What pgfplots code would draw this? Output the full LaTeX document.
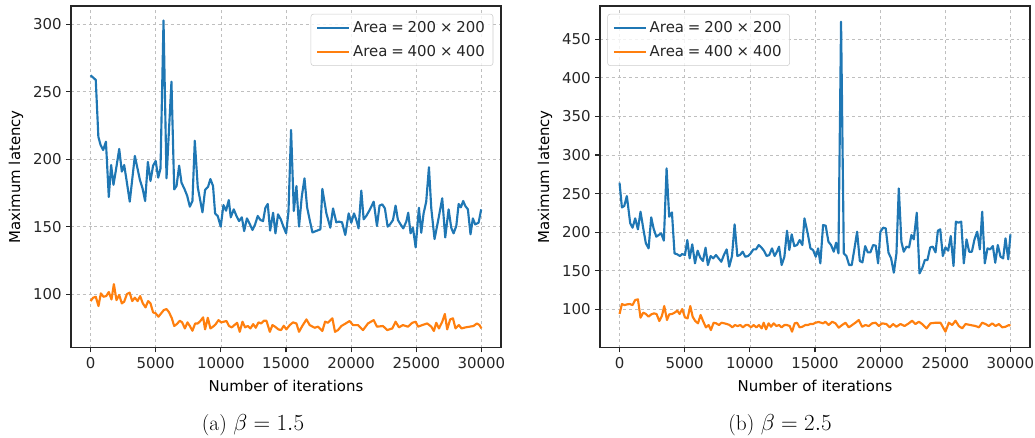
\documentclass[border=0pt]{standalone}
\usepackage{pgfplots}
\pgfplotsset{compat=1.18}
\usepackage{fontspec}
\setsansfont{DejaVu Sans}
\definecolor{c0}{HTML}{1F77B4}
\definecolor{c1}{HTML}{FF7F0E}
\definecolor{txt}{HTML}{262626}
\newcommand{\tfont}{\sffamily\fontsize{11.2}{13.4}\selectfont}
\newcommand{\lsp}{\hspace{0.26em}}
\pgfplotsset{mystyle/.style={
  scale only axis, width=322.5pt, height=256.3pt,
  xmin=-1500, xmax=31500,
  xtick={0,5000,...,30000},
  tick align=outside, tick pos=left,
  major tick length=3.5pt,
  every tick/.style={txt, line width=0.8pt},
  axis line style={txt, line width=0.9pt},
  grid=major, major grid style={dash pattern=on 2.2pt off 2.2pt, black!25, line width=0.5pt},
  font=\tfont,
  ticklabel style={font=\tfont, text=txt},
  /pgf/number format/.cd, set thousands separator={}, assume math mode=true, /pgfplots/.cd,
  scaled ticks=false,
  xlabel={Number of iterations}, ylabel={Maximum latency},
  label style={text=txt, font=\tfont},
  every axis x label/.style={at={(axis description cs:0.5,-0.112)}, anchor=center},
  every axis y label/.style={at={(axis description cs:-0.128,0.5)}, rotate=90, anchor=center},
  legend cell align=left,
  legend image code/.code={\draw[#1, line width=1.6pt] (0pt,0pt) -- (24pt,0pt);},
  legend style={draw=black!20, fill=white, fill opacity=0.8, text opacity=1, rounded corners=2pt,
     font=\tfont, text=txt, inner xsep=4pt, inner ysep=3.5pt, row sep=4pt, cells={anchor=west}},
  every axis plot/.append style={line width=1.6pt, line join=round},
}}
\begin{document}
\begin{tikzpicture}
\useasboundingbox (0,0) rectangle (776.25pt,328.5pt);
\begin{axis}[mystyle, at={(53.25pt,67.7pt)}, anchor=south west,
  ymin=60.2, ymax=313.6, ytick={100,150,...,300},
  legend style={at={(0.982,0.977)}, anchor=north east}]
\addplot[c0] table {
x y
0 262.2
400 258.8
600 216.6
770 210.5
970 206.8
1180 213
1400 172
1580 195.7
1760 181
1990 194.5
2200 207.6
2400 190.8
2580 195.7
2760 184.6
3010 168.5
3400 202.4
3790 184.6
3990 178.4
4190 169
4400 198
4600 183.8
4800 195.2
5000 198.7
5190 186.3
5370 193.2
5600 302.8
5830 185.8
6210 257.5
6420 177.6
6600 180.1
6800 195.2
6980 182.6
7240 177.2
7420 172.7
7620 164.8
7820 169
8000 213.7
8230 179.1
8590 160.6
8790 177.2
9020 179.6
9200 185.3
9400 180.1
9560 159.8
9760 157.9
9990 150
10200 166
10400 161.8
10610 169.7
10760 156.9
10990 162.8
11200 157.9
11400 154.1
11610 156.9
11790 146.7
12000 156.1
12220 151.9
12430 147.5
12630 151.7
12830 157.9
13040 154.9
13240 154.1
13420 164
13600 166.8
13780 147
14010 160.3
14190 145
14390 159.1
14600 155.4
14800 150
15010 145
15190 161
15390 221.7
15600 161.6
15800 180.1
16000 150
16210 172.2
16420 185.8
16620 164.3
16820 154.9
17030 145.7
17640 148
17790 178
18100 159.8
18400 149.2
18610 163.5
18860 153.2
19070 153.7
19300 153.2
19550 143.8
19810 159.8
20010 152.9
20220 159.8
20400 154.9
20570 148.7
20780 176.7
20960 155.4
21160 157.9
21420 162.3
21730 168.5
21980 150.5
22180 165.6
22390 166.5
22590 163.5
22800 150
23000 151.9
23210 154.9
23410 165.6
23590 154.9
23790 151.7
24000 148.7
24230 153.7
24380 160.3
24560 145
24740 149.2
24950 134.6
25200 164
25380 145.5
25560 159.8
25760 168.5
25970 194
26150 163.5
26400 140.8
26660 153.7
26990 171
27220 142
27480 162.8
27680 149.2
27860 145
28070 150.5
28250 166.8
28420 164.3
28600 169
28760 165.3
28960 162.8
29160 144.3
29340 156.1
29520 151.7
29780 152.9
29980 162.8
};
\addlegendentry{Area\lsp=\lsp200\lsp×\lsp200}
\addplot[c1] table {
x y
0 94.8
200 97.3
400 98
610 91.1
790 100.5
1000 98
1200 98.5
1400 101.5
1610 96
1790 107.4
1990 95.5
2200 99.3
2400 93.1
2580 94.3
2790 100
3000 101
3200 94.8
3400 97.3
3610 94.8
3810 98.5
4010 93.1
4220 90.1
4420 94.8
4600 93.1
4800 86.4
5000 85.7
5210 83.2
5420 85.7
5620 88.1
5830 88.9
6030 86.4
6240 82
6420 76.3
6620 77.7
6850 80.2
7030 79
7240 74.5
7440 79
7620 76.3
7820 72.8
8030 78.2
8230 78.2
8440 80.2
8640 82.7
8790 73.8
9000 82.4
9200 74.5
9400 75.8
9610 77.7
9820 80.7
10020 79
10230 79.5
10430 80
10630 76.3
10840 75.3
11040 77
11250 78.7
11450 72
11660 79.5
11860 75.3
12070 76.3
12270 74.5
12480 77.7
12680 75
12890 79
13090 78.2
13300 80.2
13500 80.2
13760 72
13960 77
14160 75.8
14420 73.8
14620 73.3
14830 76.5
15030 73.8
15290 77
15540 79
15800 78.2
16000 72
16260 76.5
16570 81.2
16820 77
17200 75
17460 75.8
17790 72.6
18000 79.5
18220 78.7
18560 82
18760 72
18990 73.3
19250 76.3
19580 78.2
19880 80
20140 77
20520 77
20910 73.3
21290 78.2
21730 80.7
21980 75.8
22440 76.3
22770 73.3
23160 74.5
23410 79.5
23670 75.3
23970 77
24360 75.8
24690 78.7
24950 79.5
25130 75.8
25460 77
25840 78.2
26150 75.8
26350 72.6
26530 78.7
26740 74.5
26990 79.5
27190 85.2
27370 73.8
27600 81.2
27810 82
28010 74.5
28270 77
28470 74.5
28780 75.3
29090 75.8
29390 76.3
29650 78.2
29850 77
30000 74.5
};
\addlegendentry{Area\lsp=\lsp400\lsp×\lsp400}
\end{axis}
\begin{axis}[mystyle, at={(450pt,67.7pt)}, anchor=south west,
  ymin=50.3, ymax=493, ytick={100,150,...,450},
  legend style={at={(0.017,0.977)}, anchor=north west}]
\addplot[c0] table {
x y
0 264.1
180 232.1
360 233.9
560 246.8
820 211.4
1000 205.8
1200 217.9
1410 203.6
1610 226.5
1840 202.8
2020 185.5
2230 179
2430 219.2
2610 205
2820 194.1
3000 196.3
3200 198.4
3400 189
3610 282.6
3810 220
4020 225.6
4220 172.5
4430 171.3
4630 169.1
4810 171.7
5020 170.4
5200 189.8
5380 166.1
5580 184.2
5790 159.6
5990 176
6200 166.9
6400 162.6
6600 179.9
6780 157.4
6990 169.1
7190 166.1
7400 170.4
7600 166.1
7810 161.7
8010 170.4
8220 177.7
8420 155.3
8630 169.1
8830 210.1
9040 169.1
9240 170.4
9450 174.7
9650 168.2
9860 169.1
10060 172.5
10270 177.7
10470 177.7
10680 183.3
10880 180.3
11080 176
11290 169.1
11490 170.4
11700 179
11900 169.1
12080 174.7
12240 181.2
12440 157.4
12650 168.2
12850 201.9
13030 176.9
13210 197.2
13410 182
13620 183.3
13820 189.8
14030 183.3
14190 217.9
14440 198.4
14650 179
14850 176.9
15060 168.2
15240 179
15410 159.6
15620 209.2
15820 208.4
16030 187.7
16230 183.3
16440 174.7
16620 186.4
16800 172.5
17000 472.6
17210 172.5
17410 169.1
17620 157.4
17820 157.4
18030 179
18230 200.6
18440 162.6
18640 160.9
18850 182
19050 173.8
19250 173.8
19460 183.3
19660 182.5
19840 159.6
20020 200.6
20230 205.8
20430 204.9
20640 173.4
20840 166.1
21050 147.5
21250 172.5
21430 256.7
21630 187.7
21810 174.7
22020 181.2
22220 180.3
22400 196.3
22580 190.7
22810 225.2
23020 146.6
23220 153.1
23430 163.9
23630 163.9
23840 180.3
24040 181.2
24250 173.8
24430 201.9
24610 203.6
24810 169.1
25010 180.3
25220 176
25420 195
25630 156.1
25810 213.6
26010 212.3
26220 213.6
26420 159.6
26630 190.7
26830 174.7
27040 174.7
27240 190.7
27450 200.6
27650 177.7
27830 226.5
28030 159.6
28240 179
28440 177.7
28650 182
28830 160.4
29030 183.3
29240 168.2
29440 166.1
29620 192
29830 164.8
30000 197.2
};
\addlegendentry{Area\lsp=\lsp200\lsp×\lsp200}
\addplot[c1] table {
x y
0 94
180 106.9
380 105.6
590 106.5
790 106.9
1000 105.6
1200 112.1
1410 113
1610 89.2
1820 95.7
2020 94
2230 90.5
2430 93.5
2640 94.8
2840 94
3050 84.9
3250 91.4
3430 104.3
3640 86.2
3810 93.5
4020 94
4220 95.7
4430 98.3
4610 94
4810 100.4
5020 89.6
5220 88.3
5430 104.3
5610 90.5
5810 84.9
6020 81.9
6220 92.7
6430 84
6630 76.7
6840 79.7
7010 73.2
7220 82.7
7420 81.9
7630 79.7
7830 82.7
8040 81.9
8240 81
8450 79.7
8650 76.7
8860 79.7
9060 78.4
9270 79.7
9470 76.7
9680 79.7
9880 79.7
10090 76.7
10290 79.7
10500 76.7
10700 79.7
10910 75.4
11060 82.7
11240 74.1
11440 81.9
11620 77.5
11830 81.9
12030 78.4
12240 79.7
12440 76.7
12650 79.7
12850 79.7
13060 78.4
13240 71.1
13440 81.9
13620 82.7
13820 76.7
14030 77.5
14260 79.7
14440 79.7
14650 81
14850 81
15030 82.7
15290 83.6
15620 81.9
15800 84
16050 79.7
16310 84
16570 81.9
16820 76.3
17080 79.7
17340 82.7
17590 76.7
17850 79.7
18100 82.7
18360 86.2
18620 77.5
18870 79.7
19130 78.4
19380 81.9
19640 82.7
19900 78.4
20150 81.9
20480 81
20740 76.7
20990 81
21250 77.5
21560 81
21870 78.4
22200 81.9
22450 85.3
22710 81
22970 84
23220 81
23560 75.4
23860 81.9
24250 82.7
24630 82.7
25010 71.1
25270 82.7
25530 79.7
25780 85.3
26040 78.4
26300 75.4
26550 81
26930 79.7
27320 78.4
27580 76.7
27830 82.7
28090 81
28340 78.4
28600 81.9
28860 78.4
29110 81
29370 76.7
29620 77.5
29880 79.7
30000 78.8
};
\addlegendentry{Area\lsp=\lsp400\lsp×\lsp400}
\end{axis}
\node[anchor=center, font=\fontsize{16}{19}\selectfont] at (189.75pt,9.75pt) {(a)~$\beta=1.5$};
\node[anchor=center, font=\fontsize{16}{19}\selectfont] at (585pt,9.75pt) {(b)~$\beta=2.5$};
\end{tikzpicture}
\end{document}
